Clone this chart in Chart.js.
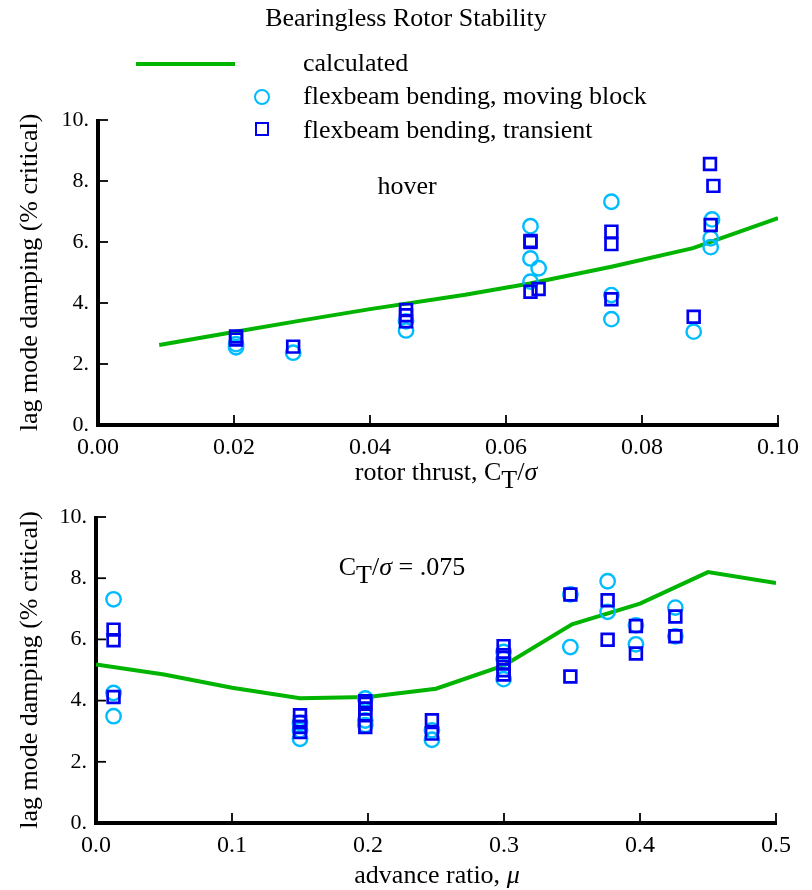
<!DOCTYPE html>
<html><head><meta charset="utf-8">
<script src="https://cdn.jsdelivr.net/npm/chart.js@4/dist/chart.umd.min.js"></script>
<style>
html,body{margin:0;padding:0;background:#fff;}
#wrap{position:relative;width:812px;height:890px;overflow:hidden;font-family:'Liberation Serif','Times New Roman',serif;color:#000;}
canvas{position:absolute;left:0;}
.t{position:absolute;font-size:26px;line-height:26px;white-space:nowrap;}
.c{transform:translateX(-50%);}
.sub{position:relative;top:8px;}
.mk{position:absolute;box-sizing:border-box;}
</style></head>
<body><div id="wrap">
<canvas id="c1" width="812" height="490" style="top:0"></canvas>
<canvas id="c2" width="812" height="400" style="top:490px"></canvas>
<div class="t c" style="left:406px;top:5px">Bearingless Rotor Stability</div>
<div class="mk" style="left:136px;top:61.7px;width:99px;height:4px;background:#00b400"></div>
<div class="mk" style="left:253.5px;top:88.5px;width:16px;height:16px;border:2.4px solid #00bcff;border-radius:50%"></div>
<div class="mk" style="left:254.5px;top:121.8px;width:14.5px;height:14.5px;border:2.7px solid #0000f0"></div>
<div class="t" style="left:303px;top:50px">calculated</div>
<div class="t" style="left:303px;top:83px">flexbeam bending, moving block</div>
<div class="t" style="left:303px;top:116.5px">flexbeam bending, transient</div>
<div class="t c" style="left:407px;top:173px">hover</div>
<div class="t c" style="left:402px;top:554px">C<span class="sub">T</span>/<i>σ</i> = .075</div>
<div class="t c" style="left:446px;top:459px">rotor thrust, C<span class="sub">T</span>/<i>σ</i></div>
<div class="t c" style="left:437px;top:861.5px">advance ratio, <i>μ</i></div>
</div>
<script>
// ---- hover (top panel) ----
const hoverCalcThrust   = [0.009, 0.02, 0.03, 0.04, 0.054, 0.0635, 0.0755, 0.0875, 0.10];
const hoverCalcDamping  = [2.62, 3.05, 3.43, 3.80, 4.27, 4.64, 5.19, 5.80, 6.78];
const hoverBlockThrust  = [0.0203, 0.0203, 0.0287, 0.0453, 0.0453, 0.0636, 0.0636, 0.0636, 0.0648, 0.0755, 0.0755, 0.0755, 0.0876, 0.0903, 0.0901, 0.0901];
const hoverBlockDamping = [2.55, 2.65, 2.37, 3.10, 3.40, 6.52, 5.46, 4.70, 5.14, 7.32, 4.26, 3.47, 3.06, 6.74, 6.12, 5.83];
const hoverTransThrust  = [0.0203, 0.0203, 0.0287, 0.0453, 0.0453, 0.0453, 0.0636, 0.0636, 0.0636, 0.0648, 0.0755, 0.0755, 0.0755, 0.0876, 0.0900, 0.0905, 0.0901];
const hoverTransDamping = [2.80, 2.90, 2.57, 3.40, 3.60, 3.77, 6.00, 6.03, 4.37, 4.46, 6.34, 5.93, 4.12, 3.55, 8.56, 7.84, 6.56];
// ---- forward flight (bottom panel) ----
const fwdCalcMu        = [0, 0.05, 0.10, 0.15, 0.20, 0.25, 0.30, 0.35, 0.40, 0.45, 0.50];
const fwdCalcDamping   = [5.18, 4.85, 4.42, 4.08, 4.12, 4.39, 5.15, 6.49, 7.17, 8.20, 7.84];
const fwdBlockMu       = [0.0129, 0.0129, 0.0129, 0.150, 0.150, 0.150, 0.198, 0.198, 0.198, 0.247, 0.247, 0.2997, 0.2997, 0.2997, 0.3488, 0.3488, 0.3762, 0.3762, 0.397, 0.397, 0.426, 0.426];
const fwdBlockDamping  = [7.31, 4.25, 3.49, 3.27, 3.03, 2.75, 4.07, 3.35, 3.20, 3.03, 2.72, 5.59, 5.37, 4.70, 7.47, 5.75, 7.90, 6.90, 6.46, 5.84, 7.04, 6.10];
const fwdTransMu       = [0.0129, 0.0129, 0.0129, 0.150, 0.150, 0.150, 0.150, 0.198, 0.198, 0.198, 0.198, 0.198, 0.247, 0.247, 0.2997, 0.2997, 0.2997, 0.2997, 0.2997, 0.3488, 0.3488, 0.3762, 0.3762, 0.397, 0.397, 0.426, 0.426];
const fwdTransDamping  = [6.32, 5.97, 4.12, 3.52, 3.30, 3.14, 2.97, 3.98, 3.90, 3.74, 3.55, 3.14, 3.36, 2.92, 5.78, 5.48, 5.21, 4.99, 4.85, 7.47, 4.79, 7.28, 5.99, 6.44, 5.54, 6.75, 6.10];
// ---- tick labels ----
const thrustTickLabels = ['0.00', '0.02', '0.04', '0.06', '0.08', '0.10'];
const muTickLabels     = ['0.0', '0.1', '0.2', '0.3', '0.4', '0.5'];
const dampTickLabels   = ['0.', '2.', '4.', '6.', '8.', '10.'];
const yTitle = 'lag mode damping (% critical)';

const GREEN = '#00b400', CYAN = '#00bcff', BLUE = '#0000f0';
Chart.defaults.font.family = "'Liberation Serif','Times New Roman',serif";
Chart.defaults.color = '#000';

const toPts = (xs, ys) => xs.map((x, i) => ({x: x, y: ys[i]}));

const frame = {
  id: 'frame',
  beforeDatasetsDraw(chart) {
    const {ctx, chartArea: a, scales: {x, y}} = chart;
    ctx.save();
    ctx.strokeStyle = '#000';
    ctx.lineWidth = 1.8;
    x.ticks.forEach((t, i) => {
      if (i === 0) return;
      const px = x.getPixelForValue(t.value);
      ctx.beginPath(); ctx.moveTo(px, a.bottom); ctx.lineTo(px, a.bottom - 10); ctx.stroke();
    });
    y.ticks.forEach((t, i) => {
      if (i === 0) return;
      const py = y.getPixelForValue(t.value);
      ctx.beginPath(); ctx.moveTo(a.left, py); ctx.lineTo(a.left + 10, py); ctx.stroke();
    });
    ctx.lineWidth = 4;
    ctx.lineJoin = 'miter';
    ctx.lineCap = 'butt';
    ctx.beginPath();
    ctx.moveTo(a.left, a.top - 1);
    ctx.lineTo(a.left, a.bottom);
    ctx.lineTo(a.right + 1, a.bottom);
    ctx.stroke();
    ctx.restore();
  }
};

function makeChart(id, o) {
  return new Chart(document.getElementById(id), {
    type: 'scatter',
    data: {datasets: [
      {label: 'calculated', data: toPts(o.cx, o.cy), showLine: true, borderColor: GREEN, borderWidth: 4,
       pointRadius: 0, fill: false, tension: 0, order: 3},
      {label: 'flexbeam bending, moving block', data: toPts(o.bx, o.by), showLine: false,
       pointStyle: 'circle', pointRadius: 7.2, pointBorderWidth: 2.4, borderColor: CYAN,
       pointBorderColor: CYAN, pointBackgroundColor: 'rgba(0,0,0,0)', backgroundColor: 'rgba(0,0,0,0)', order: 2},
      {label: 'flexbeam bending, transient', data: toPts(o.tx, o.ty), showLine: false,
       pointStyle: 'rect', pointRadius: 8.3, pointBorderWidth: 2.7, borderColor: BLUE,
       pointBorderColor: BLUE, pointBackgroundColor: 'rgba(0,0,0,0)', backgroundColor: 'rgba(0,0,0,0)', order: 1}
    ]},
    options: {
      responsive: false, animation: false, devicePixelRatio: 1,
      layout: {padding: o.pad},
      plugins: {legend: {display: false}, tooltip: {enabled: false}, title: {display: false}},
      scales: {
        x: {type: 'linear', min: o.xmin, max: o.xmax,
            grid: {display: false, drawTicks: false}, border: {display: false},
            ticks: {stepSize: o.xstep, autoSkip: false, maxRotation: 0, minRotation: 0, padding: 8.6,
                    font: {size: 24}, color: '#000',
                    callback: v => o.xlabels[Math.round((v - o.xmin) / o.xstep)]},
            afterFit: s => { s.height = o.xh; }},
        y: {type: 'linear', min: 0, max: 10,
            grid: {display: false, drawTicks: false}, border: {display: false},
            ticks: {stepSize: 2, autoSkip: false, padding: 9, font: {size: 22}, color: '#000',
                    callback: v => dampTickLabels[Math.round(v / 2)]},
            title: {display: true, text: yTitle, font: {size: 26}, color: '#000', padding: {top: 15, bottom: 0}},
            afterFit: s => { s.width = o.yw; }}
      }
    },
    plugins: [frame]
  });
}

makeChart('c1', {cx: hoverCalcThrust, cy: hoverCalcDamping, bx: hoverBlockThrust, by: hoverBlockDamping,
  tx: hoverTransThrust, ty: hoverTransDamping, xmin: 0, xmax: 0.10, xstep: 0.02, xlabels: thrustTickLabels,
  pad: {left: 0, right: 34, top: 120, bottom: 0}, xh: 65, yw: 98});
makeChart('c2', {cx: fwdCalcMu, cy: fwdCalcDamping, bx: fwdBlockMu, by: fwdBlockDamping,
  tx: fwdTransMu, ty: fwdTransDamping, xmin: 0, xmax: 0.5, xstep: 0.1, xlabels: muTickLabels,
  pad: {left: 0, right: 36, top: 27, bottom: 0}, xh: 67, yw: 96});
</script>
</body></html>
